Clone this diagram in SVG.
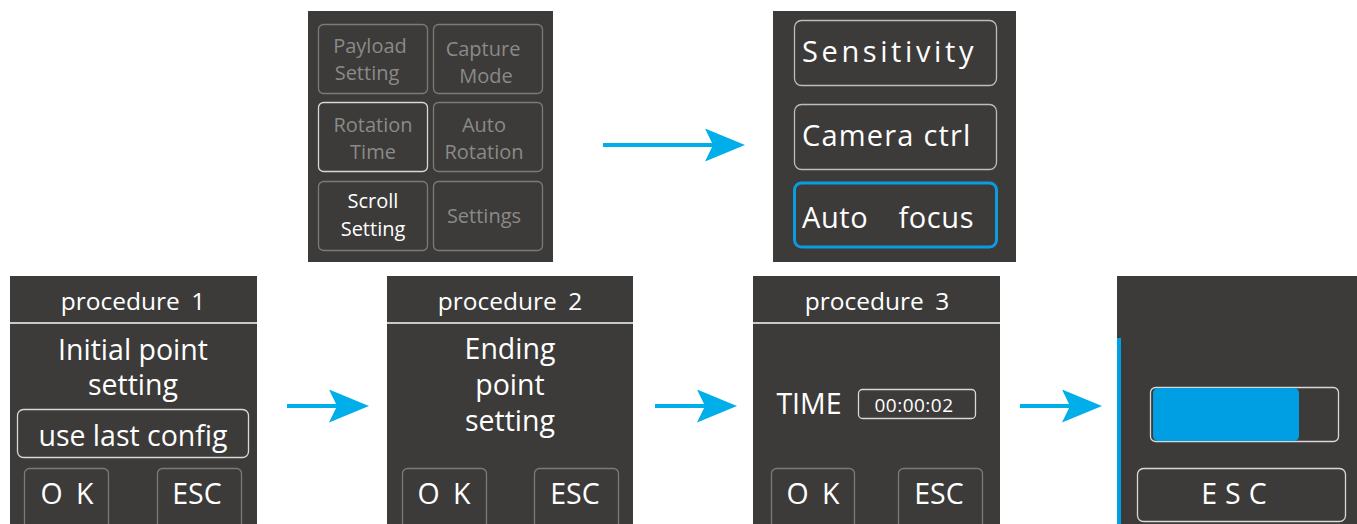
<svg xmlns="http://www.w3.org/2000/svg" width="1357" height="524" viewBox="0 0 1357 524">
<defs>
<style>
.panel{fill:#3c3b39}
.btn{fill:none;stroke:#7a7a78;stroke-width:1.3}
.btnw{fill:none;stroke:#d8d8d6;stroke-width:1.3}
.t{font-family:"Open Sans","Noto Sans",sans-serif;fill:#ffffff;text-anchor:middle}
.g{fill:#8a8a88;font-size:20px}
.w19{font-size:20px}
.hdr{font-size:24.5px;word-spacing:5px}
.big{font-size:28.5px}
.sep{stroke:#c9c9c7;stroke-width:2}
.conn{stroke:#00aeea;stroke-width:4;fill:none}
</style>
<marker id="ah" markerUnits="userSpaceOnUse" markerWidth="40" markerHeight="34" refX="8" refY="16.5" orient="auto" viewBox="0 0 40 34">
<path d="M0,0 L40,16.5 L0,33 L8,16.5 Z" fill="#00aeea"/>
</marker>
</defs>
<rect width="1357" height="524" fill="#ffffff"/>

<g id="menu-grid">
<rect class="panel" x="308" y="11" width="245" height="251"/>
<rect class="btn" x="318.5" y="24.5" width="109" height="69" rx="5"/>
<rect class="btn" x="433.5" y="24.5" width="109" height="69" rx="5"/>
<rect class="btnw" x="318.5" y="102.5" width="109" height="69" rx="5"/>
<rect class="btn" x="433.5" y="102.5" width="109" height="69" rx="5"/>
<rect class="btn" x="318.5" y="181.5" width="109" height="69" rx="5"/>
<rect class="btn" x="433.5" y="181.5" width="109" height="69" rx="5"/>
<text class="t g" x="370" y="53">Payload</text>
<text class="t g" x="367" y="80">Setting</text>
<text class="t g" x="483" y="56">Capture</text>
<text class="t g" x="486" y="83">Mode</text>
<text class="t g" x="373" y="132">Rotation</text>
<text class="t g" x="373" y="159">Time</text>
<text class="t g" x="484" y="132">Auto</text>
<text class="t g" x="484" y="159">Rotation</text>
<text class="t w19" x="373" y="208">Scroll</text>
<text class="t w19" x="373" y="236">Setting</text>
<text class="t g" x="484" y="223">Settings</text>
</g>

<g id="camera-menu">
<rect class="panel" x="773" y="11" width="243" height="251"/>
<rect class="btn" x="794.5" y="20.5" width="202" height="65" rx="7" style="stroke:#bdbdbb"/>
<rect class="btn" x="794.5" y="104.5" width="202" height="65" rx="7" style="stroke:#bdbdbb"/>
<rect x="794.5" y="183" width="202" height="64" rx="7" fill="none" stroke="#0a9be0" stroke-width="3"/>
<text class="t" x="802" y="62" style="text-anchor:start;font-size:29px;letter-spacing:3.6px">Sensitivity</text>
<text class="t" x="802" y="146" style="text-anchor:start;font-size:29px;letter-spacing:1.2px">Camera ctrl</text>
<text class="t" x="802" y="228" style="text-anchor:start;font-size:29px;letter-spacing:0.6px;word-spacing:22px">Auto focus</text>
</g>

<g id="procedure-1">
<rect class="panel" x="10" y="276" width="247" height="248"/>
<line class="sep" x1="10" y1="323" x2="257" y2="323"/>
<text class="t hdr" x="133" y="310">procedure 1</text>
<text class="t big" x="133" y="360">Initial point</text>
<text class="t big" x="133" y="395">setting</text>
<rect class="btnw" x="17.5" y="409.5" width="231" height="48" rx="6"/>
<text class="t big" x="133" y="446">use last config</text>
<rect class="btn" x="24.5" y="468.5" width="84" height="60" rx="5"/>
<rect class="btn" x="157.5" y="468.5" width="84" height="60" rx="5"/>
<text class="t big" x="67" y="504" style="word-spacing:6px">O K</text>
<text class="t big" x="197" y="504">ESC</text>
</g>

<g id="procedure-2">
<rect class="panel" x="387" y="276" width="246" height="248"/>
<line class="sep" x1="387" y1="323" x2="633" y2="323"/>
<text class="t hdr" x="510" y="310">procedure 2</text>
<text class="t big" x="510" y="359">Ending</text>
<text class="t big" x="510" y="395">point</text>
<text class="t big" x="510" y="431">setting</text>
<rect class="btn" x="402.5" y="468.5" width="84" height="60" rx="5"/>
<rect class="btn" x="534.5" y="468.5" width="84" height="60" rx="5"/>
<text class="t big" x="444" y="504" style="word-spacing:6px">O K</text>
<text class="t big" x="575" y="504">ESC</text>
</g>

<g id="procedure-3">
<rect class="panel" x="753" y="276" width="247" height="248"/>
<line class="sep" x1="753" y1="323" x2="1000" y2="323"/>
<text class="t hdr" x="877" y="310">procedure 3</text>
<text class="t big" x="809" y="414">TIME</text>
<rect class="btnw" x="858.5" y="389.5" width="117" height="29" rx="4"/>
<text class="t" x="914" y="412" style="font-size:19px;letter-spacing:0.5px">00:00:02</text>
<rect class="btn" x="771.5" y="468.5" width="83" height="60" rx="5"/>
<rect class="btn" x="898.5" y="468.5" width="84" height="60" rx="5"/>
<text class="t big" x="813" y="504" style="word-spacing:6px">O K</text>
<text class="t big" x="939" y="504">ESC</text>
</g>

<g id="progress">
<rect class="panel" x="1117" y="276" width="240" height="248"/>
<rect x="1117" y="338" width="4" height="186" fill="#009fe3"/>
<rect class="btnw" x="1150.5" y="387.5" width="188" height="54" rx="5"/>
<rect x="1153" y="388" width="146" height="53" rx="5" fill="#009fe3"/>
<rect class="btnw" x="1137.5" y="468.5" width="208" height="53" rx="6"/>
<text class="t big" x="1238" y="504" style="letter-spacing:8px">ESC</text>
</g>

<g id="connectors">
<line class="conn" x1="603" y1="145" x2="713" y2="145" marker-end="url(#ah)"/>
<line class="conn" x1="287" y1="406" x2="337" y2="406" marker-end="url(#ah)"/>
<line class="conn" x1="655" y1="406" x2="705" y2="406" marker-end="url(#ah)"/>
<line class="conn" x1="1020" y1="406" x2="1070" y2="406" marker-end="url(#ah)"/>
</g>
</svg>
